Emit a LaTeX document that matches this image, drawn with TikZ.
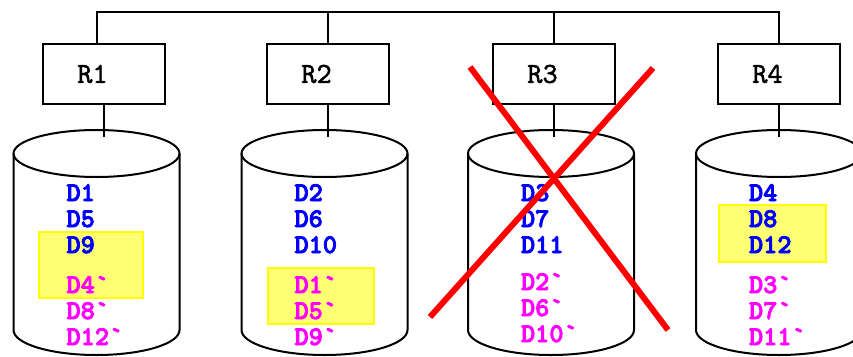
\documentclass[tikz,border=0pt]{standalone}
\usepackage{fontspec}
\newfontfamily\dfont{lmmonolt10-bold.otf}[FakeBold=3]
\newfontfamily\rfont{lmmono10-regular.otf}[FakeBold=1.5]
\definecolor{dblue}{RGB}{0,0,255}
\definecolor{dmag}{RGB}{255,0,255}
\definecolor{hlfill}{RGB}{255,255,115}
\definecolor{hlline}{RGB}{255,255,0}
\usetikzlibrary{calc}
\begin{document}
\begin{tikzpicture}[x=1pt,y=-1pt,line width=2pt,
  rbox/.style={draw,minimum width=122pt,minimum height=60pt,inner sep=0pt,font=\rfont\fontsize{29}{29}\selectfont},
  dtxt/.style={anchor=base west,inner sep=0pt,font=\dfont\fontsize{27}{27}\selectfont},
  prim/.style={dtxt,text=dblue},
  sec/.style={dtxt,text=dmag},
  hl/.style={draw=hlline,fill=hlfill,line width=2pt},
  cross/.style={draw=red,line width=6pt}]
\useasboundingbox (0,0) rectangle (853,356);
% servers
\node[rbox] (r1) at (104,74) {R1\rule{23pt}{0pt}};
\node[rbox] (r2) at (328,74) {R2\rule{23pt}{0pt}};
\node[rbox] (r3) at (554,74) {R3\rule{23pt}{0pt}};
\node[rbox] (r4) at (779,74) {R4\rule{23pt}{0pt}};
% bus
\coordinate (b1) at (97,12);
\draw (b1 |- r1.north) -- (b1) -- (b1 -| r4.north) -- (r4.north);
\draw (r2.north) -- (r2.north |- b1);
\draw (r3.north) -- (r3.north |- b1);
% disks
\foreach \i/\cx in {1/96.5,2/324.5,3/551,4/779}{
  \coordinate (c\i) at (\cx,137);
  \draw (\cx,153.5) ellipse [x radius=83,y radius=23.5];
  \draw (\cx-83,153.5) -- (\cx-83,330) arc[start angle=180,end angle=0,x radius=83,y radius=25] -- (\cx+83,153.5);
  \draw (r\i.south) -- (r\i.south |- c\i);
}
% highlighted blocks
\draw[hl] (39,232) rectangle (143,298);
\draw[hl] (268,268) rectangle (374,324);
\draw[hl] (719,205) rectangle (826,262);
% disk 1
\node[prim] (t1a) at (65.5,201) {D1};
\node[prim] (t1b) at (65.5,227) {D5};
\node[prim] (t1c) at (65.5,253) {D9};
\node[sec] (t1d) at (65.5,293) {D4`};
\node[sec] (t1e) at (65.5,319) {D8`};
\node[sec] (t1f) at (65.5,345) {D12`};
% disk 2
\node[prim] (t2a) at (293.5,201) {D2};
\node[prim] (t2b) at (293.5,227) {D6};
\node[prim] (t2c) at (293.5,253) {D10};
\node[sec] (t2d) at (293.5,293) {D1`};
\node[sec] (t2e) at (293.5,319) {D5`};
\node[sec] (t2f) at (293.5,345) {D9`};
% disk 3
\node[prim] (t3a) at (520,201) {D3};
\node[prim] (t3b) at (520,227) {D7};
\node[prim] (t3c) at (520,253) {D11};
\node[sec] (t3d) at (520,290) {D2`};
\node[sec] (t3e) at (520,316) {D6`};
\node[sec] (t3f) at (520,342) {D10`};
% disk 4
\node[prim] (t4a) at (748,201) {D4};
\node[prim] (t4b) at (748,227) {D8};
\node[prim] (t4c) at (748,253) {D12};
\node[sec] (t4d) at (748,293) {D3`};
\node[sec] (t4e) at (748,319) {D7`};
\node[sec] (t4f) at (748,345) {D11`};
% failed server
\draw[cross] (470,67) -- (668,330);
\draw[cross] (653,68) -- (430,317);
\end{tikzpicture}
\end{document}
